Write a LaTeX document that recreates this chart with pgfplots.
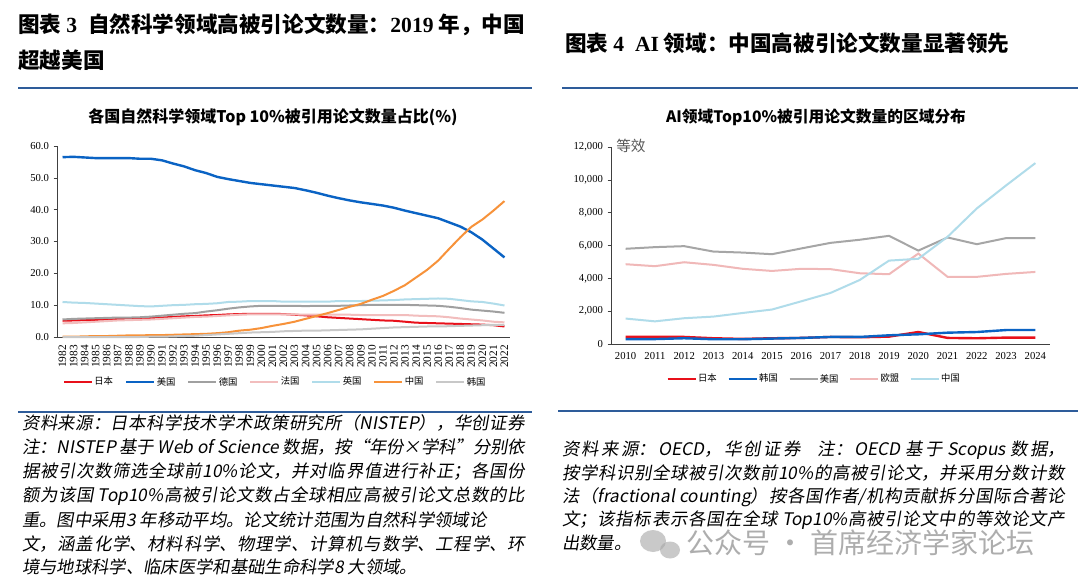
\documentclass[border=0pt]{standalone}
\usepackage{fontspec}
\usepackage{pgfplots}
\usepackage{pgfplotstable}
\pgfplotsset{compat=1.18}
\setmainfont{Liberation Serif}
\newfontfamily\cjk{Noto Sans CJK SC}
\newfontfamily\notefont{Noto Sans CJK SC}[FakeSlant=0.18]
\XeTeXlinebreaklocale "zh"
\XeTeXlinebreakskip=0pt plus 4pt minus 0.3pt

\definecolor{cJP}{HTML}{E8101A}
\definecolor{cUS}{HTML}{0A63C4}
\definecolor{cDE}{HTML}{A0A0A0}
\definecolor{cFR}{HTML}{F2BDBD}
\definecolor{cUK}{HTML}{B0DCEA}
\definecolor{cCN}{HTML}{F7923A}
\definecolor{cKR}{HTML}{C8C8C8}
\definecolor{cUSg}{HTML}{A6A6A6}
\definecolor{cEU}{HTML}{F0B8B8}
\definecolor{rulec}{HTML}{2E5C9A}
\definecolor{axc}{HTML}{404040}

\pgfplotstableread{
year JP US DE FR UK CN KR
1982 5.1 56.5 5.5 4.3 11.0 0.1 0.0
1983 5.2 56.6 5.7 4.4 10.8 0.1 0.0
1984 5.3 56.4 5.8 4.6 10.7 0.2 0.0
1985 5.4 56.2 5.9 4.8 10.5 0.3 0.0
1986 5.5 56.2 6.0 5.0 10.3 0.3 0.0
1987 5.6 56.2 6.1 5.2 10.1 0.4 0.0
1988 5.7 56.2 6.1 5.3 9.9 0.5 0.0
1989 5.8 56.0 6.2 5.4 9.7 0.5 0.0
1990 5.9 56.0 6.4 5.5 9.6 0.6 0.1
1991 6.1 55.5 6.7 5.7 9.8 0.6 0.1
1992 6.3 54.5 7.0 5.9 10.0 0.7 0.2
1993 6.5 53.6 7.3 6.1 10.1 0.8 0.3
1994 6.6 52.4 7.5 6.3 10.3 0.9 0.4
1995 6.8 51.5 8.0 6.4 10.4 1.0 0.6
1996 6.9 50.3 8.4 6.6 10.6 1.2 0.8
1997 7.1 49.6 8.9 6.8 11.0 1.5 1.0
1998 7.2 49.0 9.3 7.0 11.1 2.0 1.2
1999 7.3 48.4 9.6 7.1 11.3 2.3 1.4
2000 7.3 48.0 9.8 7.1 11.3 2.8 1.5
2001 7.3 47.6 9.8 7.1 11.3 3.5 1.6
2002 7.2 47.2 9.8 7.1 11.1 4.1 1.8
2003 7.0 46.8 9.8 7.1 11.1 4.8 1.9
2004 6.8 46.1 9.7 7.0 11.1 5.7 2.0
2005 6.5 45.3 9.8 7.0 11.1 6.6 2.0
2006 6.2 44.4 9.8 7.0 11.1 7.5 2.1
2007 6.0 43.6 9.8 7.0 11.3 8.5 2.2
2008 5.8 42.9 9.9 7.0 11.3 9.5 2.3
2009 5.6 42.3 10.0 6.9 11.3 10.4 2.4
2010 5.4 41.8 10.1 6.9 11.4 11.7 2.6
2011 5.2 41.3 10.1 6.9 11.5 12.9 2.8
2012 5.1 40.6 10.1 6.9 11.6 14.5 3.0
2013 4.8 39.7 10.1 6.9 11.8 16.3 3.1
2014 4.5 38.9 10.0 6.7 11.9 18.7 3.2
2015 4.4 38.1 9.9 6.6 12.0 21.1 3.3
2016 4.3 37.3 9.8 6.5 12.1 24.0 3.3
2017 4.2 36.0 9.5 6.2 12.0 27.7 3.4
2018 4.1 34.7 9.1 5.8 11.6 31.3 3.5
2019 4.0 32.9 8.6 5.5 11.2 34.6 3.6
2020 3.9 30.6 8.3 5.2 11.0 36.9 3.7
2021 3.7 27.8 8.0 4.8 10.5 39.7 3.8
2022 3.3 25.0 7.6 4.6 9.9 42.7 3.8
}\leftdata

\pgfplotstableread{
year JP KR US EU CN
2010 430 300 5800 4860 1550
2011 430 300 5900 4740 1380
2012 430 350 5960 4980 1570
2013 350 290 5630 4820 1670
2014 310 290 5570 4580 1890
2015 350 330 5470 4450 2100
2016 370 370 5820 4580 2600
2017 430 430 6160 4560 3110
2018 410 430 6350 4310 3900
2019 450 530 6590 4250 5080
2020 730 590 5690 5510 5190
2021 370 690 6490 4090 6530
2022 350 730 6080 4090 8260
2023 390 850 6450 4270 9660
2024 390 850 6450 4390 11020
}\rightdata

\newcommand\hb[1]{{\rmfamily\bfseries #1}}
\newcommand\nj[1]{\parbox{377pt}{\notefont\fontsize{13}{15}\selectfont\tolerance=9999\hyphenpenalty=10000\parfillskip=0pt\relax #1}}
\newcommand\nn[1]{\notefont\fontsize{13}{15}\selectfont #1}

\pgfplotsset{
  mybase/.style={
    scale only axis,
    axis x line*=bottom, axis y line*=left,
    axis line style={axc, line width=0.6pt},
    tick align=outside,
    major tick length=2.5pt,
    minor tick length=2.5pt,
    xtick style={draw=none},
    minor x tick style={axc, line width=0.5pt},
    y tick style={axc, line width=0.5pt},
    /pgf/number format/assume math mode=true,
    tick label style={font=\fontsize{8}{9}\selectfont, text=black},
    x tick label style={/pgf/number format/1000 sep={}},
    scaled y ticks=false,
    clip=false,
    legend cell align=left,
    legend style={draw=none, fill=none, legend columns=-1,
      nodes={inner sep=1pt},
      font=\cjk\fontsize{7}{8}\selectfont},
    legend image code/.code={\draw[##1] (0pt,0pt) -- (21pt,0pt);},
  }
}

\begin{document}
\begin{tikzpicture}
\begin{scope}[x=0.75pt,y=-0.75pt]
\useasboundingbox (0,0) rectangle (1080,577);
\fill[white] (0,0) rectangle (1080,577);
% headings
\node[anchor=west, inner sep=0pt] at (18,25) {\cjk\bfseries\fontsize{16.2}{18}\selectfont 图表 \hb{3}\enspace 自然科学领域高被引论文数量：\hb{2019} 年，中国};
\node[anchor=west, inner sep=0pt] at (18,60) {\cjk\bfseries\fontsize{16.2}{18}\selectfont 超越美国};
\node[anchor=west, inner sep=0pt] at (565,43) {\cjk\bfseries\fontsize{16.2}{18}\selectfont 图表 \hb{4}\enspace \hb{AI} 领域：中国高被引论文数量显著领先};
\draw[rulec, line width=1.6pt] (18,88) -- (532,88);
\draw[rulec, line width=1.6pt] (562,88) -- (1078,88);
% chart titles
\node at (273,117) {\cjk\bfseries\fontsize{12}{14}\selectfont 各国自然科学领域Top 10\%被引用论文数量占比(\%)};
\node at (816,117) {\cjk\bfseries\fontsize{11.8}{14}\selectfont AI领域Top10\%被引用论文数量的区域分布};
\node[anchor=west, inner sep=0pt, text=black!65] at (616,146) {\cjk\fontsize{11}{12}\selectfont 等效};
% lower rules
\draw[rulec, line width=1.6pt] (18,412) -- (532,412);
\draw[rulec, line width=1.6pt] (558,411) -- (1078,411);
% left notes
\node[anchor=west, inner sep=0pt] at (22,423) {\nj{资料来源：日本科学技术学术政策研究所（NISTEP），华创证券}};
\node[anchor=west, inner sep=0pt] at (22,447) {\nj{注：NISTEP 基于 Web of Science 数据，按“年份×学科”分别依}};
\node[anchor=west, inner sep=0pt] at (22,472) {\nj{据被引次数筛选全球前10\%论文，并对临界值进行补正；各国份}};
\node[anchor=west, inner sep=0pt] at (22,496) {\nj{额为该国 Top10\%高被引论文数占全球相应高被引论文总数的比}};
\node[anchor=west, inner sep=0pt] at (22,520) {\nn{重。图中采用3 年移动平均。论文统计范围为自然科学领域论}};
\node[anchor=west, inner sep=0pt] at (22,544) {\nj{文，涵盖化学、材料科学、物理学、计算机与数学、工程学、环}};
\node[anchor=west, inner sep=0pt] at (22,567) {\nn{境与地球科学、临床医学和基础生命科学8 大领域。}};
% right notes
\node[anchor=west, inner sep=0pt] at (562,450) {\nj{资料来源：OECD，华创证券\quad 注：OECD 基于 Scopus 数据，}};
\node[anchor=west, inner sep=0pt] at (562,473) {\nj{按学科识别全球被引次数前10\%的高被引论文，并采用分数计数}};
\node[anchor=west, inner sep=0pt] at (562,497) {\nj{法（fractional counting）按各国作者/机构贡献拆分国际合著论}};
\node[anchor=west, inner sep=0pt] at (562,520) {\nj{文；该指标表示各国在全球 Top10\%高被引论文中的等效论文产}};
\node[anchor=west, inner sep=0pt] at (562,543) {\nn{出数量。}};
% watermark
\fill[black!35, opacity=0.6] (653,541) ellipse (13 and 11);
\fill[black!35, opacity=0.6] (670,550) ellipse (10 and 8.5);
\node[anchor=west, inner sep=0pt, text=black!40, opacity=0.8] at (686,543) {\cjk\fontsize{21}{24}\selectfont 公众号 · 首席经济学家论坛};
\end{scope}

% ---------- left chart ----------
\begin{axis}[mybase,
  at={(42.75pt,-252.75pt)}, anchor=south west,
  width=339.75pt, height=143.25pt,
  xmin=1981.5, xmax=2022.5, ymin=0, ymax=60,
  xtick={1982,...,2022},
  minor xtick={1981.5,1982.5,...,2022.5},
  ytick={0,10,...,60},
  y tick label style={/pgf/number format/.cd, fixed, fixed zerofill, precision=1},
  x tick label style={rotate=90, anchor=east, font=\fontsize{8.5}{9}\selectfont},
  legend style={at={(0.481,-0.236)}, anchor=center,
    /tikz/every even column/.append style={column sep=8pt}},
]
\addplot[cJP, line width=1.5pt] table[x=year,y=JP]{\leftdata};
\addlegendentry{日本}
\addplot[cUS, line width=1.8pt] table[x=year,y=US]{\leftdata};
\addlegendentry{美国}
\addplot[cDE, line width=1.5pt] table[x=year,y=DE]{\leftdata};
\addlegendentry{德国}
\addplot[cFR, line width=1.5pt] table[x=year,y=FR]{\leftdata};
\addlegendentry{法国}
\addplot[cUK, line width=1.5pt] table[x=year,y=UK]{\leftdata};
\addlegendentry{英国}
\addplot[cCN, line width=1.5pt] table[x=year,y=CN]{\leftdata};
\addlegendentry{中国}
\addplot[cKR, line width=1.5pt] table[x=year,y=KR]{\leftdata};
\addlegendentry{韩国}
\end{axis}

% ---------- right chart ----------
\begin{axis}[mybase,
  at={(458.25pt,-258pt)}, anchor=south west,
  width=329.25pt, height=147.75pt,
  xmin=2009.5, xmax=2024.5, ymin=0, ymax=12000,
  xtick={2010,...,2024},
  minor xtick={2009.5,2010.5,...,2024.5},
  ytick={0,2000,...,12000},
  y tick label style={/pgf/number format/.cd, fixed, 1000 sep={,}},
  legend style={at={(0.462,-0.178)}, anchor=center,
    /tikz/every even column/.append style={column sep=7pt}},
]
\addplot[cJP, line width=1.8pt] table[x=year,y=JP]{\rightdata};
\addlegendentry{日本}
\addplot[cUS, line width=1.8pt] table[x=year,y=KR]{\rightdata};
\addlegendentry{韩国}
\addplot[cUSg, line width=1.5pt] table[x=year,y=US]{\rightdata};
\addlegendentry{美国}
\addplot[cEU, line width=1.5pt] table[x=year,y=EU]{\rightdata};
\addlegendentry{欧盟}
\addplot[cUK, line width=1.5pt] table[x=year,y=CN]{\rightdata};
\addlegendentry{中国}
\end{axis}
\end{tikzpicture}
\end{document}
